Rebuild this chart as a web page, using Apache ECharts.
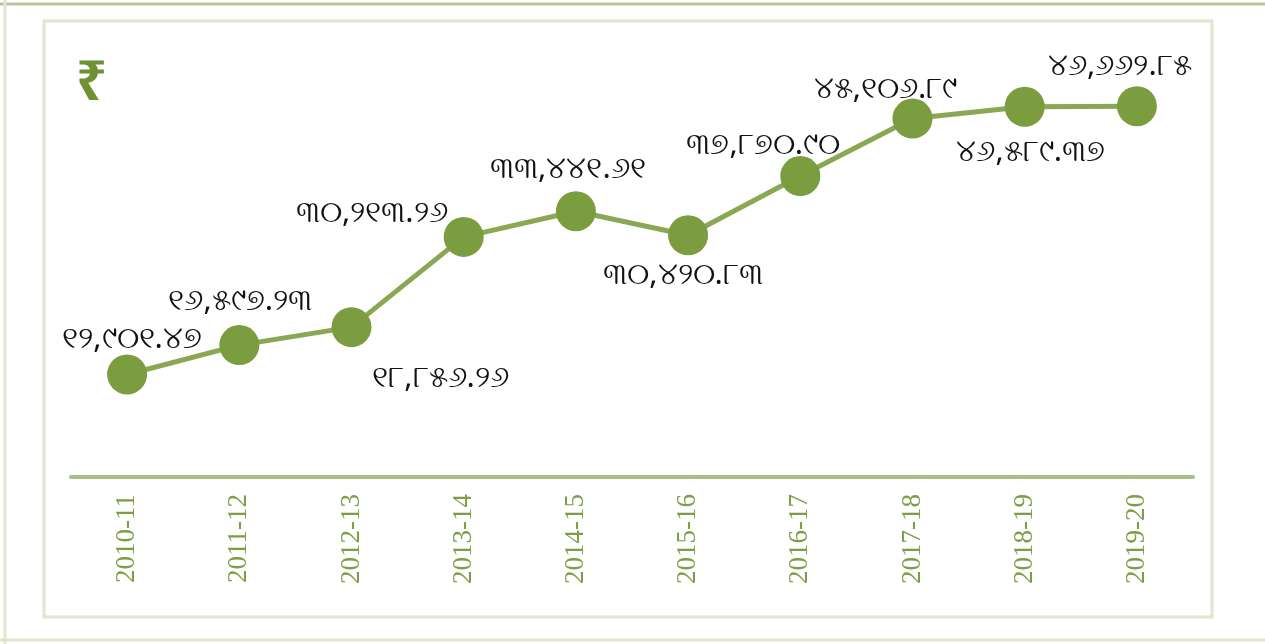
<!DOCTYPE html>
<html>
<head>
<meta charset="utf-8">
<script src="https://cdn.jsdelivr.net/npm/echarts@6/dist/echarts.min.js"></script>
<style>
html,body{margin:0;padding:0;background:#fff;}
#c{width:1265px;height:644px;}
</style>
</head>
<body>
<div id="c"></div>
<script>
const categories = ['2010-11','2011-12','2012-13','2013-14','2014-15','2015-16','2016-17','2017-18','2018-19','2019-20'];
const values = [12901.47, 16597.23, 18856.26, 30213.26, 33441.61, 30420.83, 37870.90, 45106.89, 46589.37, 46662.85];
const labelTexts = ['୧୨,୯୦୧.୪୭','୧୬,୫୯୭.୨୩','୧୮,୮୫୬.୨୬','୩୦,୨୧୩.୨୬','୩୩,୪୪୧.୬୧','୩୦,୪୨୦.୮୩','୩୭,୮୭୦.୯୦','୪୫,୧୦୬.୮୯','୪୬,୫୮୯.୩୭','୪୬,୬୬୨.୮୫'];
const currencySymbol = '₹';

// label placement (layout only)
const labelOffsets = [[5,-35],[1,-44],[89,51],[-92,-24],[-8,-42],[-5,40],[-37,-31],[-27,-29],[6,45],[-17,-40]];

const chart = echarts.init(document.getElementById('c'));
const green = '#7b9c3f';
chart.setOption({
  animation:false,
  grid:{left:71,right:72,top:24,bottom:167},
  xAxis:{
    type:'category',
    data:categories,
    boundaryGap:true,
    axisLine:{lineStyle:{color:'#a9bf86',width:4}},
    axisTick:{show:false},
    axisLabel:{rotate:90,color:'#7d9e45',fontFamily:'Liberation Serif',fontSize:27,margin:17}
  },
  yAxis:{type:'value',min:0,max:57000,show:false,splitLine:{show:false}},
  graphic:[
    {type:'rect',shape:{x:44,y:21,width:1168,height:596},style:{fill:'none',stroke:'#dfe8cf',lineWidth:3},z:-1},
    {type:'line',shape:{x1:0,y1:4,x2:1265,y2:4},style:{stroke:'#b8c4a0',lineWidth:3}},
    {type:'line',shape:{x1:5,y1:0,x2:5,y2:644},style:{stroke:'#dfe8cf',lineWidth:3}},
    {type:'line',shape:{x1:0,y1:640,x2:1265,y2:640},style:{stroke:'#dfe8cf',lineWidth:3}},
    {type:'text',left:76,top:58,style:{text:currencySymbol,fill:'#6f9136',font:'bold 54px "Noto Sans"'}}
  ],
  series:[{
    type:'line',
    data:values.map((v,i)=>({value:v,label:{formatter:labelTexts[i],offset:labelOffsets[i]}})),
    symbol:'circle',
    symbolSize:40,
    lineStyle:{color:'#8aa853',width:5},
    itemStyle:{color:green},
    label:{show:true,position:'inside',color:'#111',fontSize:31,fontFamily:'Noto Sans'}
  }]
});
</script>
</body>
</html>
